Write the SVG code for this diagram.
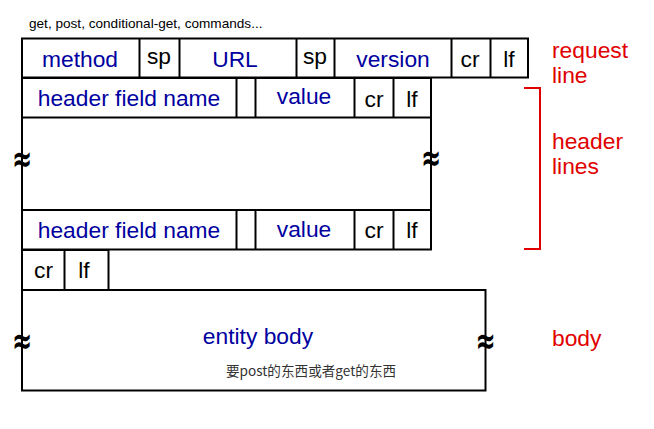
<svg xmlns="http://www.w3.org/2000/svg" width="654" height="429" viewBox="0 0 654 429">
<style>
.box{fill:none;stroke:#000;stroke-width:2}
.ln{stroke:#000;stroke-width:2}
.f{font-family:"Liberation Sans",Arial,sans-serif;font-size:22.8px;text-anchor:middle}
.b{fill:#0000a0}
.k{fill:#000}
.r{font-family:"Liberation Sans",Arial,sans-serif;font-size:22.8px;fill:#e00000}
.tl{font-family:"DejaVu Sans",sans-serif;font-size:24px;font-weight:bold;fill:#000;text-anchor:middle}
</style>
<rect width="654" height="429" fill="#fff"/>
<text x="29" y="28" font-family="Liberation Sans, Arial, sans-serif" font-size="13.6" fill="#000">get, post, conditional-get, commands...</text>

<g id="request-line">
<rect class="box" x="22" y="38.5" width="506" height="39"/>
<line class="ln" x1="139.5" y1="38.5" x2="139.5" y2="77.5"/>
<line class="ln" x1="179.5" y1="38.5" x2="179.5" y2="77.5"/>
<line class="ln" x1="296.5" y1="38.5" x2="296.5" y2="77.5"/>
<line class="ln" x1="334.5" y1="38.5" x2="334.5" y2="77.5"/>
<line class="ln" x1="451.5" y1="38.5" x2="451.5" y2="77.5"/>
<line class="ln" x1="490.5" y1="38.5" x2="490.5" y2="77.5"/>
<text class="f b" x="80" y="67">method</text>
<text class="f k" x="159" y="64">sp</text>
<text class="f b" x="235" y="67">URL</text>
<text class="f k" x="315" y="64">sp</text>
<text class="f b" x="393" y="67">version</text>
<text class="f k" x="470" y="67">cr</text>
<text class="f k" x="509" y="67">lf</text>
</g>

<g id="header-lines">
<rect class="box" x="22" y="78" width="409" height="39.5"/>
<line class="ln" x1="236.5" y1="78" x2="236.5" y2="117.5"/>
<line class="ln" x1="255.5" y1="78" x2="255.5" y2="117.5"/>
<line class="ln" x1="354.5" y1="78" x2="354.5" y2="117.5"/>
<line class="ln" x1="393.5" y1="78" x2="393.5" y2="117.5"/>
<text class="f b" x="129" y="106">header field name</text>
<text class="f b" x="304" y="104">value</text>
<text class="f k" x="374" y="107">cr</text>
<text class="f k" x="412" y="107">lf</text>
<line class="ln" x1="22" y1="117.5" x2="22" y2="210"/>
<line class="ln" x1="431" y1="117.5" x2="431" y2="210"/>
<text class="tl" transform="translate(22,159) scale(1,1.5)" x="0" y="8">≈</text>
<text class="tl" transform="translate(431,158) scale(1,1.5)" x="0" y="8">≈</text>
<rect class="box" x="22" y="210" width="409" height="39.5"/>
<line class="ln" x1="236.5" y1="210" x2="236.5" y2="249.5"/>
<line class="ln" x1="255.5" y1="210" x2="255.5" y2="249.5"/>
<line class="ln" x1="354.5" y1="210" x2="354.5" y2="249.5"/>
<line class="ln" x1="393.5" y1="210" x2="393.5" y2="249.5"/>
<text class="f b" x="129" y="238">header field name</text>
<text class="f b" x="304" y="237">value</text>
<text class="f k" x="374" y="238">cr</text>
<text class="f k" x="412" y="238">lf</text>
</g>

<g id="blank-line">
<rect class="box" x="22" y="250" width="86.5" height="40"/>
<line class="ln" x1="64.5" y1="250" x2="64.5" y2="290"/>
<text class="f k" x="43.5" y="278">cr</text>
<text class="f k" x="84" y="278">lf</text>
</g>

<g id="entity-body">
<rect class="box" x="22" y="290" width="463.5" height="100.5"/>
<text class="f b" x="258" y="344">entity body</text>
<text x="311" y="376" font-family="Noto Sans CJK SC, sans-serif" font-size="13.6" fill="#333" text-anchor="middle">要post的东西或者get的东西</text>
<text class="tl" transform="translate(22,341) scale(1,1.5)" x="0" y="8">≈</text>
<text class="tl" transform="translate(485.5,341) scale(1,1.5)" x="0" y="8">≈</text>
</g>

<g id="labels">
<path d="M524 88 H540 V249 H524" fill="none" stroke="#e00000" stroke-width="2"/>
<text class="r" x="552" y="58">request</text>
<text class="r" x="552" y="83">line</text>
<text class="r" x="552" y="149">header</text>
<text class="r" x="552" y="174">lines</text>
<text class="r" x="552" y="346">body</text>
</g>
</svg>
